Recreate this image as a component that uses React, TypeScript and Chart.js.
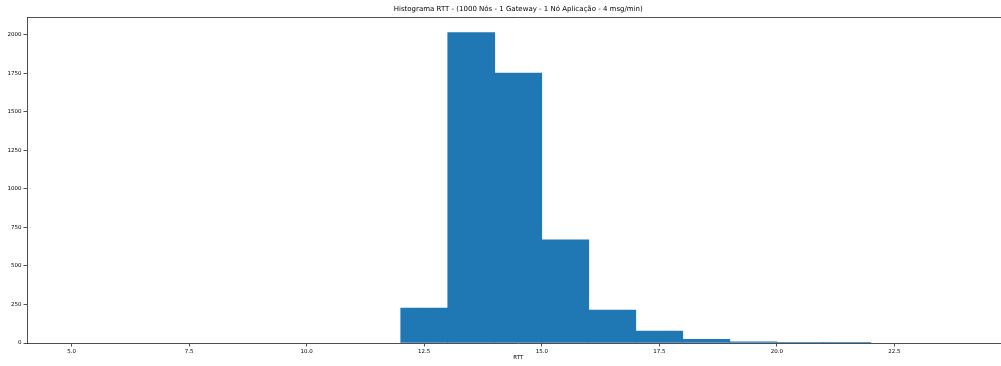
import React, { useEffect, useRef } from "react";
import { Chart, registerables } from "chart.js";

Chart.register(...registerables);

const TITLE = "Histograma RTT - (1000 Nós - 1 Gateway - 1 Nó Aplicação - 4 msg/min)";
const X_LABEL = "RTT";
// histogram bins: left edges (width 1)
const binStarts = [5, 6, 7, 8, 9, 10, 11, 12, 13, 14, 15, 16, 17, 18, 19, 20, 21, 22, 23];
const binCounts = [0, 0, 0, 0, 0, 0, 0, 227, 2015, 1752, 669, 214, 78, 24, 7, 2, 1, 0, 0];
const xTicks = [5.0, 7.5, 10.0, 12.5, 15.0, 17.5, 20.0, 22.5];
const yTicks = [0, 250, 500, 750, 1000, 1250, 1500, 1750, 2000];

const X_MIN = 4.05;
const X_MAX = 24.95;
const Y_MAX = 2116;

const FONT = "'DejaVu Sans', sans-serif";
const SPINE = "#222";

export default function App() {
  const ref = useRef<HTMLCanvasElement | null>(null);

  useEffect(() => {
    const canvas = ref.current;
    if (!canvas) return;
    const data = binStarts
      .map((s, i) => ({ x: s + 0.5, y: binCounts[i] }))
      .filter((d) => d.y > 0);
    const chart = new Chart(canvas, {
      type: "bar",
      data: {
        datasets: [
          {
            data,
            backgroundColor: "#1f77b4",
            borderWidth: 0,
            barPercentage: 1,
            categoryPercentage: 1,
          } as any,
        ],
      },
      options: {
        animation: false,
        responsive: false,
        devicePixelRatio: 1,
        layout: { padding: { left: 0, right: 10.5, top: 0, bottom: 0 } },
        plugins: {
          legend: { display: false },
          tooltip: { enabled: false },
          title: {
            display: true,
            text: TITLE,
            fullSize: false,
            color: "#000",
            font: { family: FONT, size: 7, weight: "normal" },
            padding: { top: 5, bottom: 3.6 },
          } as any,
        },
        scales: {
          x: {
            type: "linear",
            position: "bottom",
            min: X_MIN,
            max: X_MAX,
            offset: false,
            afterFit: (s: any) => {
              s.height = 23;
            },
            afterBuildTicks: (s: any) => {
              s.ticks = xTicks.map((v) => ({ value: v }));
            },
            ticks: {
              includeBounds: false,
              autoSkip: false,
              maxRotation: 0,
              color: "#000",
              font: { family: FONT, size: 5.5 },
              padding: 1.5,
              callback: (v: any) => Number(v).toFixed(1),
            },
            grid: {
              display: true,
              offset: false,
              drawOnChartArea: false,
              drawTicks: true,
              tickLength: 3.5,
              tickColor: SPINE,
              tickWidth: 0.8,
            },
            border: { display: true, color: SPINE, width: 0.8 },
            title: {
              display: true,
              text: X_LABEL,
              color: "#000",
              font: { family: FONT, size: 5.5 },
              padding: { top: 0, bottom: 5 },
            },
          },
          xTop: {
            type: "linear",
            position: "top",
            min: 0,
            max: 1,
            afterFit: (s: any) => {
              s.height = 0;
            },
            ticks: { display: false },
            grid: { display: false, drawOnChartArea: false, drawTicks: false },
            border: { display: true, color: SPINE, width: 0.8 },
          },
          y: {
            type: "linear",
            position: "left",
            min: 0,
            max: Y_MAX,
            afterFit: (s: any) => {
              s.width = 27;
            },
            afterBuildTicks: (s: any) => {
              s.ticks = yTicks.map((v) => ({ value: v }));
            },
            ticks: {
              includeBounds: false,
              autoSkip: false,
              color: "#000",
              font: { family: FONT, size: 5.5 },
              padding: 2,
              callback: (v: any) => String(v),
            },
            grid: {
              display: true,
              offset: false,
              drawOnChartArea: false,
              drawTicks: true,
              tickLength: 3.5,
              tickColor: SPINE,
              tickWidth: 0.8,
            },
            border: { display: true, color: SPINE, width: 0.8 },
          },
        },
      } as any,
    });
    return () => chart.destroy();
  }, []);

  return (
    <div
      style={{
        position: "absolute",
        left: 0,
        top: 0,
        width: 1001,
        height: 366,
        overflow: "hidden",
        background: "#fff",
      }}
    >
      <canvas ref={ref} width={1020} height={366} style={{ width: 1020, height: 366, display: "block" }} />
    </div>
  );
}
